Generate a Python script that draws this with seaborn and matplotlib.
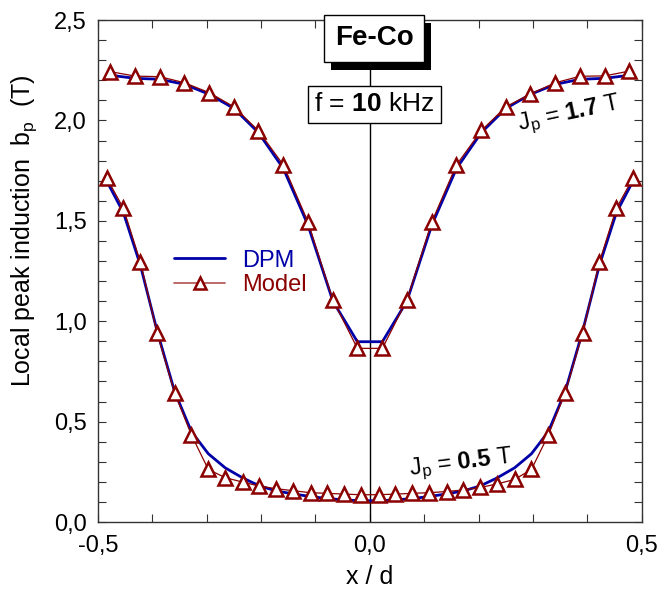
import numpy as np
import pandas as pd
import matplotlib
matplotlib.use("Agg")
import matplotlib.pyplot as plt
import matplotlib.patheffects as pe
from matplotlib.lines import Line2D
from matplotlib.ticker import MultipleLocator, FuncFormatter
import seaborn as sns

# ---------------- data ----------------
x_hi = [-0.477, -0.432, -0.386, -0.341, -0.295, -0.250, -0.205, -0.159, -0.114, -0.068, -0.023,
        0.023, 0.068, 0.114, 0.159, 0.205, 0.250, 0.295, 0.341, 0.386, 0.432, 0.477]
model_hi = [2.243, 2.221, 2.218, 2.188, 2.138, 2.068, 1.949, 1.778, 1.496, 1.106, 0.865,
            0.865, 1.106, 1.496, 1.778, 1.950, 2.068, 2.132, 2.188, 2.220, 2.222, 2.246]
dpm_hi = [2.225, 2.210, 2.205, 2.180, 2.130, 2.060, 1.940, 1.760, 1.480, 1.100, 0.898,
          0.898, 1.100, 1.480, 1.760, 1.940, 2.060, 2.130, 2.180, 2.205, 2.210, 2.225]

x_lo = [-0.484, -0.453, -0.422, -0.391, -0.359, -0.328, -0.297, -0.266, -0.234, -0.203,
        -0.172, -0.141, -0.109, -0.078, -0.047, -0.016,
        0.016, 0.047, 0.078, 0.109, 0.141, 0.172, 0.203, 0.234, 0.266, 0.297,
        0.328, 0.359, 0.391, 0.422, 0.453, 0.484]
model_lo = [1.715, 1.562, 1.296, 0.940, 0.644, 0.433, 0.262, 0.221, 0.199, 0.179,
            0.166, 0.156, 0.146, 0.143, 0.139, 0.136,
            0.136, 0.139, 0.143, 0.146, 0.152, 0.160, 0.172, 0.190, 0.212, 0.262,
            0.433, 0.644, 0.940, 1.296, 1.562, 1.715]
dpm_lo = [1.700, 1.540, 1.280, 0.950, 0.650, 0.450, 0.340, 0.270, 0.220, 0.180,
          0.155, 0.140, 0.127, 0.117, 0.110, 0.106,
          0.106, 0.110, 0.117, 0.127, 0.140, 0.155, 0.180, 0.220, 0.270, 0.340,
          0.450, 0.650, 0.950, 1.280, 1.540, 1.700]

x_ticks = [-0.5, 0.0, 0.5]
y_ticks = [0.0, 0.5, 1.0, 1.5, 2.0, 2.5]

# ---------------- style ----------------
sns.set_style("ticks")
plt.rcParams["font.family"] = ["Liberation Sans", "DejaVu Sans"]
plt.rcParams["mathtext.fontset"] = "custom"
plt.rcParams["mathtext.rm"] = "Liberation Sans"
plt.rcParams["mathtext.it"] = "Liberation Sans"
plt.rcParams["mathtext.bf"] = "Liberation Sans:bold"
plt.rcParams["text.color"] = "black"
plt.rcParams["axes.labelcolor"] = "black"

BLUE = "#0000a8"
RED = "#8b0000"

fig = plt.figure(figsize=(6.57, 5.99), dpi=100)
ax = fig.add_axes([0.149, 0.1285, 0.828, 0.838])

df_hi = pd.DataFrame({"x": x_hi, "dpm": dpm_hi, "model": model_hi})
df_lo = pd.DataFrame({"x": x_lo, "dpm": dpm_lo, "model": model_lo})

ax.axvline(0.0, color="black", lw=1.0, zorder=1)

for df in (df_hi, df_lo):
    sns.lineplot(data=df, x="x", y="dpm", ax=ax, color=BLUE, lw=2.0,
                 legend=False, sort=False, zorder=3)
    sns.lineplot(data=df, x="x", y="model", ax=ax, color=RED, lw=0.9,
                 marker="^", markersize=10, markerfacecolor="white",
                 markeredgecolor=RED, markeredgewidth=1.8,
                 legend=False, sort=False, zorder=4)

ax.set_xlim(-0.5, 0.5)
ax.set_ylim(0.0, 2.5)
ax.set_xticks(x_ticks)
ax.set_yticks(y_ticks)
ax.xaxis.set_minor_locator(MultipleLocator(0.1))
ax.yaxis.set_minor_locator(MultipleLocator(0.1))
fmt = FuncFormatter(lambda v, p: f"{v:.1f}".replace(".", ","))
ax.xaxis.set_major_formatter(fmt)
ax.yaxis.set_major_formatter(fmt)
ax.tick_params(which="both", direction="in", top=True, right=True,
               length=6, width=0.8, colors="#333333", labelcolor="black")
ax.tick_params(axis="y", which="major", labelsize=17, pad=8)
ax.tick_params(axis="x", which="major", labelsize=17, pad=9)
for s in ax.spines.values():
    s.set_linewidth(1.0)
    s.set_color("#333333")

ax.set_xlabel("x / d", fontsize=18, labelpad=6)
ax.set_ylabel("Local peak induction  b$_p$  (T)", fontsize=18)
ax.yaxis.set_label_coords(-0.108, 0.58)

# boxes
t1 = ax.text(0.008, 2.41, "Fe-Co", fontsize=20, fontweight="bold", ha="center", va="center",
             bbox=dict(boxstyle="square,pad=0.38", fc="white", ec="black", lw=1.0),
             zorder=10, clip_on=False)
t1.get_bbox_patch().set_path_effects([
    pe.SimplePatchShadow(offset=(5, -6), shadow_rgbFace="black", alpha=1.0), pe.Normal()])
ax.text(0.008, 2.08, r"f = $\mathbf{10}$ kHz", fontsize=19, ha="center", va="center",
        bbox=dict(boxstyle="square,pad=0.25", fc="white", ec="black", lw=1.0), zorder=10)

ax.text(0.366, 2.03, r"J$_p$ = $\mathbf{1.7}$ T", fontsize=17, ha="center", va="center",
        rotation=12, zorder=10)
ax.text(0.168, 0.29, r"J$_p$ = $\mathbf{0.5}$ T", fontsize=17, ha="center", va="center",
        rotation=7, zorder=10)

handles = [Line2D([], [], color=BLUE, lw=2.0),
           Line2D([], [], color="#b05050", lw=1.2, marker="^", markersize=8,
                  markerfacecolor="white", markeredgecolor=RED, markeredgewidth=1.8)]
ax.legend(handles, ["DPM", "Model"], loc="upper left", bbox_to_anchor=(0.1, 0.585),
          frameon=False, fontsize=17, handlelength=2.2, handletextpad=0.7,
          labelspacing=0.12, labelcolor=[BLUE, RED])

fig.savefig("out.png", dpi=100)
